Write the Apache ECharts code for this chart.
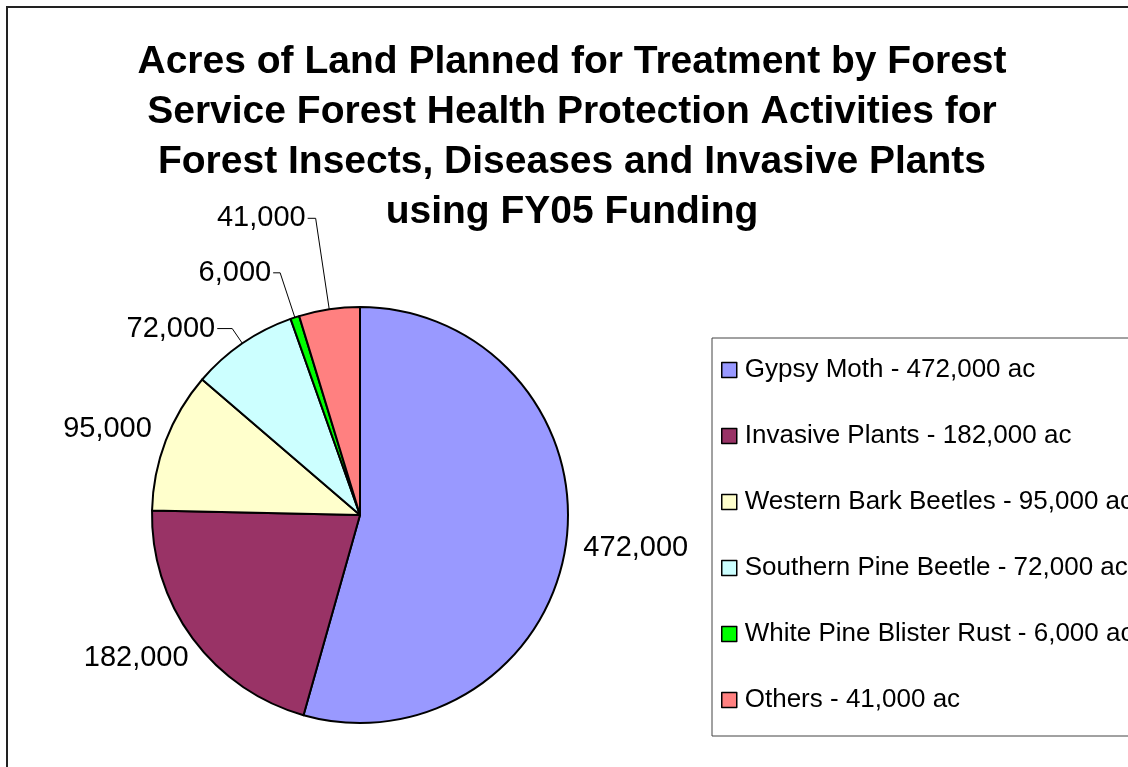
<!DOCTYPE html>
<html>
<head>
<meta charset="utf-8">
<script src="https://cdn.jsdelivr.net/npm/echarts@6/dist/echarts.min.js"></script>
<style>
html,body{margin:0;padding:0;background:#fff;}
#chart{width:1128px;height:767px;}
</style>
</head>
<body>
<div id="chart"></div>
<script>
// ---- data ----
const titleText = 'Acres of Land Planned for Treatment by Forest\nService Forest Health Protection Activities for\nForest Insects, Diseases and Invasive Plants\nusing FY05 Funding';
const categories = ['Gypsy Moth', 'Invasive Plants', 'Western Bark Beetles', 'Southern Pine Beetle', 'White Pine Blister Rust', 'Others'];
const acres = [472000, 182000, 95000, 72000, 6000, 41000];
const colors = ['#9999FF', '#993366', '#FFFFCC', '#CCFFFF', '#00FF00', '#FF8080'];

// ---- label styling (leader line lengths; 'auto' = placed beside the slice, no leader) ----
const labelLineStyles = [
  { auto: true, length: 6, length2: 0 },
  { auto: true, length: 6, length2: 0 },
  { auto: true, length: 6, length2: 0 },
  { auto: false, length: 18, length2: 15 },
  { auto: false, length: 47, length2: 7 },
  { auto: false, length: 92, length2: 8 }
];
const LABEL_GAP = 18;
const FONT = "'Liberation Sans', Arial, sans-serif";

const fmt = v => v.toLocaleString('en-US');

const pieData = categories.map((name, i) => {
  const st = labelLineStyles[i];
  return {
    name: name,
    value: acres[i],
    itemStyle: { color: colors[i] },
    labelLine: {
      show: true,
      length: st.length,
      length2: st.length2,
      lineStyle: { color: '#000', width: 1, opacity: st.auto ? 0 : 1 }
    }
  };
});

const chart = echarts.init(document.getElementById('chart'), null, { renderer: 'canvas' });
chart.setOption({
  backgroundColor: '#fff',
  animation: false,
  title: {
    text: titleText,
    left: 572,
    top: 37,
    padding: 0,
    textAlign: 'center',
    textStyle: { fontFamily: FONT, fontSize: 39, fontWeight: 'bold', color: '#000', lineHeight: 50 }
  },
  legend: {
    orient: 'vertical',
    left: 712,
    top: 338,
    padding: [17, 30, 21, 9],
    borderColor: '#444',
    borderWidth: 1,
    itemWidth: 15,
    itemHeight: 15,
    itemGap: 36,
    icon: 'rect',
    itemStyle: { borderColor: '#000', borderWidth: 1.5 },
    textStyle: { fontFamily: FONT, fontSize: 26, color: '#000', lineHeight: 30, padding: [0, 0, 0, 3] },
    formatter: name => {
      const i = categories.indexOf(name);
      return name + ' - ' + fmt(acres[i]) + ' ac';
    },
    data: categories
  },
  graphic: [{
    type: 'rect',
    silent: true,
    z: 100,
    shape: { x: 7, y: 7, width: 1300, height: 1000 },
    style: { fill: 'none', stroke: '#222', lineWidth: 2 }
  }],
  series: [{
    type: 'pie',
    center: [360, 515],
    radius: 208,
    startAngle: 90,
    clockwise: true,
    avoidLabelOverlap: false,
    itemStyle: { borderColor: '#000', borderWidth: 2 },
    emphasis: { disabled: true },
    label: {
      show: true,
      position: 'outside',
      distanceToLabelLine: 2,
      fontFamily: FONT,
      fontSize: 29,
      color: '#000',
      formatter: p => fmt(p.value)
    },
    labelLayout: function (p) {
      const st = labelLineStyles[p.dataIndex];
      const pts = p.labelLinePoints;
      if (!st.auto || !pts) return {};
      let dx = pts[1][0] - pts[0][0];
      let dy = pts[1][1] - pts[0][1];
      const n = Math.hypot(dx, dy) || 1;
      dx /= n; dy /= n;
      const ax = pts[0][0] + dx * LABEL_GAP;
      const ay = pts[0][1] + dy * LABEL_GAP;
      const w = p.labelRect.width, h = p.labelRect.height;
      return { x: ax + dx * w / 2, y: ay + dy * h / 2, align: 'center', verticalAlign: 'middle' };
    },
    data: pieData
  }]
});
</script>
</body>
</html>
